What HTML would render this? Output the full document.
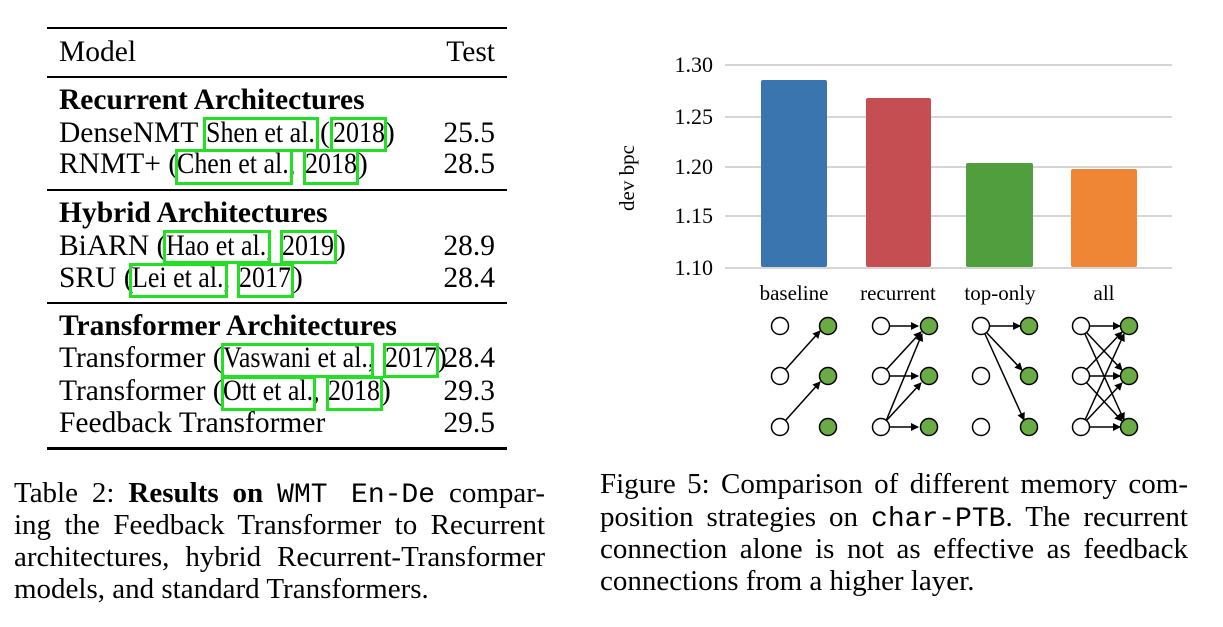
<!DOCTYPE html>
<html><head><meta charset="utf-8"><style>
body{margin:0;width:1223px;height:627px;background:#fff;position:relative;overflow:hidden;font-family:"Liberation Serif",serif;color:#000}
.t{position:absolute;font-size:29.5px;line-height:30px;white-space:nowrap}
.s{transform:scaleX(0.88);transform-origin:0 0}
.b{font-weight:bold}
.r{position:absolute;left:47px;width:460px;background:#000}
.g{position:absolute;border:3px solid #22e022;box-sizing:border-box}
.n{position:absolute;right:728px;font-size:29.5px;line-height:30px}
.cap{position:absolute;font-size:29px;line-height:32px;text-align:justify;text-align-last:justify;white-space:nowrap}
.mono{font-family:"Liberation Mono",monospace;font-size:28px}
</style></head><body>
<div class="r" style="top:27px;height:2px"></div>
<div class="r" style="top:76px;height:2px"></div>
<div class="r" style="top:189px;height:2px"></div>
<div class="r" style="top:302px;height:2px"></div>
<div class="r" style="top:447px;height:3px"></div>
<div class="t" style="left:59px;top:37px">Model</div><div class="n" style="top:37px">Test</div>
<div class="t b" style="left:59px;top:85px">Recurrent Architectures</div>

<div class="t" style="left:59px;top:118px">DenseNMT</div>
<div class="t s" style="left:206px;top:118px">Shen et al.</div>
<div class="t" style="left:320px;top:118px">(</div>
<div class="t s" style="left:333px;top:118px">2018</div>
<div class="t" style="left:385px;top:118px">)</div>
<div class="n" style="top:118px">25.5</div>

<div class="t" style="left:59px;top:149px">RNMT+ (</div>
<div class="t s" style="left:177px;top:149px">Chen et al.,</div>
<div class="t s" style="left:305px;top:149px">2018</div>
<div class="t" style="left:358px;top:149px">)</div>
<div class="n" style="top:149px">28.5</div>

<div class="t b" style="left:59px;top:198px">Hybrid Architectures</div>

<div class="t" style="left:59px;top:231px">BiARN (</div>
<div class="t s" style="left:166px;top:231px">Hao et al.,</div>
<div class="t s" style="left:282px;top:231px">2019</div>
<div class="t" style="left:336px;top:231px">)</div>
<div class="n" style="top:231px">28.9</div>

<div class="t" style="left:59px;top:263px">SRU (</div>
<div class="t s" style="left:132px;top:263px">Lei et al.,</div>
<div class="t s" style="left:239px;top:263px">2017</div>
<div class="t" style="left:293px;top:263px">)</div>
<div class="n" style="top:263px">28.4</div>

<div class="t b" style="left:59px;top:311px">Transformer Architectures</div>

<div class="t" style="left:59px;top:343px">Transformer (</div>
<div class="t s" style="left:223px;top:343px">Vaswani et al.,</div>
<div class="t s" style="left:385px;top:343px">2017</div>
<div class="t" style="left:437px;top:343px">)</div>
<div class="n" style="top:343px">28.4</div>

<div class="t" style="left:59px;top:376px">Transformer (</div>
<div class="t s" style="left:223px;top:376px">Ott et al.,</div>
<div class="t s" style="left:328px;top:376px">2018</div>
<div class="t" style="left:381px;top:376px">)</div>
<div class="n" style="top:376px">29.3</div>

<div class="t" style="left:59px;top:408px">Feedback Transformer</div><div class="n" style="top:408px">29.5</div>

<div class="g" style="left:203px;top:117px;width:116px;height:35px"></div>
<div class="g" style="left:330px;top:117px;width:57px;height:35px"></div>
<div class="g" style="left:175px;top:149px;width:118px;height:36px"></div>
<div class="g" style="left:303px;top:149px;width:56px;height:36px"></div>
<div class="g" style="left:163px;top:230px;width:108px;height:34px"></div>
<div class="g" style="left:280px;top:230px;width:57px;height:34px"></div>
<div class="g" style="left:129px;top:263px;width:99px;height:35px"></div>
<div class="g" style="left:237px;top:263px;width:57px;height:35px"></div>
<div class="g" style="left:221px;top:343px;width:153px;height:35px"></div>
<div class="g" style="left:383px;top:343px;width:56px;height:35px"></div>
<div class="g" style="left:221px;top:376px;width:95px;height:35px"></div>
<div class="g" style="left:326px;top:376px;width:57px;height:35px"></div>

<div class="cap" style="left:14px;top:477px;width:531px">Table 2: <b>Results on</b> <span class="mono">WMT En-De</span> compar-</div>
<div class="cap" style="left:14px;top:509px;width:531px">ing the Feedback Transformer to Recurrent</div>
<div class="cap" style="left:14px;top:541px;width:531px">architectures, hybrid Recurrent-Transformer</div>
<div class="cap" style="left:14px;top:573px;width:440px;text-align-last:left">models, and standard Transformers.</div>

<div class="cap" style="left:600px;top:468px;width:588px">Figure 5: Comparison of different memory com-</div>
<div class="cap" style="left:600px;top:501px;width:588px">position strategies on <span class="mono">char-PTB</span>. The recurrent</div>
<div class="cap" style="left:600px;top:533px;width:588px">connection alone is not as effective as feedback</div>
<div class="cap" style="left:600px;top:565px;width:420px;text-align-last:left">connections from a higher layer.</div>

<svg style="position:absolute;left:0;top:0" width="1223" height="627" font-family="Liberation Serif, serif">
<defs><marker id="a" markerWidth="8" markerHeight="8" refX="7" refY="4" orient="auto" markerUnits="userSpaceOnUse"><path d="M0,0 L8,4 L0,8 z" fill="#000"/></marker></defs>
<g stroke="#d6d6d6" stroke-width="2">
<line x1="725" y1="65" x2="1172" y2="65"/><line x1="725" y1="117" x2="1172" y2="117"/><line x1="725" y1="167" x2="1172" y2="167"/><line x1="725" y1="216" x2="1172" y2="216"/><line x1="725" y1="268" x2="1172" y2="268"/></g>
<g font-size="22" text-anchor="end"><text x="713" y="72">1.30</text><text x="713" y="124">1.25</text><text x="713" y="174">1.20</text><text x="713" y="223">1.15</text><text x="713" y="275">1.10</text></g>
<text transform="translate(634,178) rotate(-90)" font-size="21" text-anchor="middle">dev bpc</text>
<rect x="761" y="80" width="66" height="187" fill="#3b75af" rx="2"/>
<rect x="866" y="98" width="65" height="169" fill="#c44e52" rx="2"/>
<rect x="966" y="163" width="67" height="104" fill="#519e3e" rx="2"/>
<rect x="1071" y="169" width="66" height="98" fill="#ef8636" rx="2"/>
<g font-size="21" text-anchor="middle"><text x="794" y="300">baseline</text><text x="898" y="300">recurrent</text><text x="1000" y="300">top-only</text><text x="1104" y="300">all</text></g>
<g stroke="#000" stroke-width="1.5" marker-end="url(#a)">
<line x1="785" y1="370" x2="820" y2="331"/><line x1="785" y1="421" x2="820" y2="382"/>
<line x1="890" y1="326" x2="918" y2="326"/><line x1="890" y1="376" x2="918" y2="376"/><line x1="890" y1="427" x2="918" y2="427"/>
<line x1="886" y1="370" x2="921" y2="332"/><line x1="886" y1="421" x2="922" y2="334"/><line x1="886" y1="421" x2="921" y2="383"/>
<line x1="990" y1="326" x2="1020" y2="326"/><line x1="986" y1="332" x2="1022" y2="370"/><line x1="985" y1="334" x2="1024" y2="420"/>
<line x1="1090" y1="326" x2="1120" y2="326"/><line x1="1090" y1="376" x2="1120" y2="376"/><line x1="1090" y1="427" x2="1120" y2="427"/>
<line x1="1086" y1="332" x2="1122" y2="370"/><line x1="1085" y1="334" x2="1124" y2="420"/>
<line x1="1086" y1="370" x2="1122" y2="332"/><line x1="1086" y1="382" x2="1122" y2="421"/>
<line x1="1085" y1="420" x2="1124" y2="334"/><line x1="1086" y1="421" x2="1122" y2="383"/>
</g>
<g stroke="#000" stroke-width="1.5">
<g fill="#fff"><circle cx="780" cy="326" r="8.5"/><circle cx="780" cy="376" r="8.5"/><circle cx="780" cy="427" r="8.5"/>
<circle cx="881" cy="326" r="8.5"/><circle cx="881" cy="376" r="8.5"/><circle cx="881" cy="427" r="8.5"/>
<circle cx="981" cy="326" r="8.5"/><circle cx="981" cy="376" r="8.5"/><circle cx="981" cy="427" r="8.5"/>
<circle cx="1081" cy="326" r="8.5"/><circle cx="1081" cy="376" r="8.5"/><circle cx="1081" cy="427" r="8.5"/></g>
<g fill="#6aab46"><circle cx="828" cy="326" r="8.5"/><circle cx="828" cy="376" r="8.5"/><circle cx="828" cy="427" r="8.5"/>
<circle cx="929" cy="326" r="8.5"/><circle cx="929" cy="376" r="8.5"/><circle cx="929" cy="427" r="8.5"/>
<circle cx="1029" cy="326" r="8.5"/><circle cx="1029" cy="376" r="8.5"/><circle cx="1029" cy="427" r="8.5"/>
<circle cx="1129" cy="326" r="8.5"/><circle cx="1129" cy="376" r="8.5"/><circle cx="1129" cy="427" r="8.5"/></g>
</g>
</svg>
</body></html>
